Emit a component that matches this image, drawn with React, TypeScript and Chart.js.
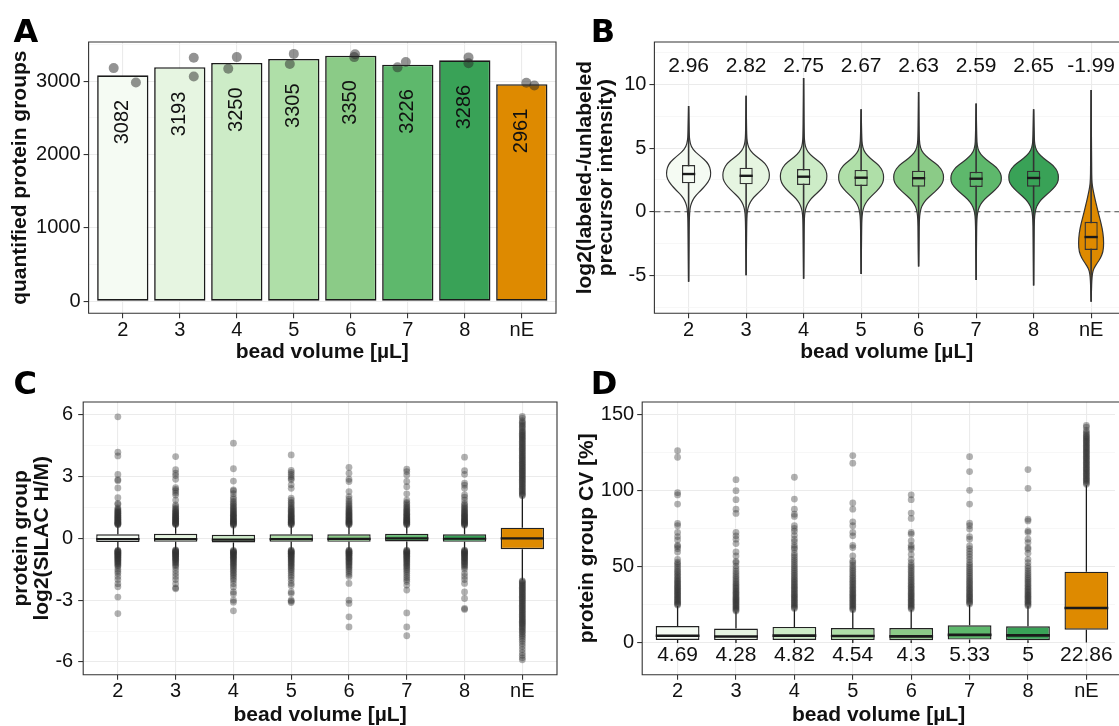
import React, { useEffect, useRef } from 'react';
import { Chart, registerables } from 'chart.js';

Chart.register(...registerables);

// ---------------- shared data ----------------
const categories = ['2', '3', '4', '5', '6', '7', '8', 'nE'];
const fillColors = ['#f5fbf3', '#e6f5e1', '#cdecc7', '#afdfa8', '#8bcb87', '#5eb86c', '#39a257', '#de8a00'];
const xTitle = 'bead volume [µL]';

// ---------------- panel A ----------------
const aCounts = [3082, 3193, 3250, 3305, 3350, 3226, 3286, 2961];
const aRep1 = [3180, 3320, 3170, 3236, 3330, 3190, 3326, 2980];
const aRep2 = [2984, 3066, 3330, 3374, 3370, 3262, 3246, 2942];
const aJitter1 = [-0.16, 0.245, -0.15, -0.07, 0.06, -0.18, 0.065, 0.08];
const aJitter2 = [0.23, 0.245, 0, 0, 0.075, -0.035, 0.065, 0.22];
const aYRange = [-165, 3536];
const aYMajor = [0, 1000, 2000, 3000];
const aYMinor = [500, 1500, 2500, 3500];
const aXRange = [-0.6, 7.6];

// ---------------- panel B ----------------
const bQ1 = [2.23, 2.15, 2.1, 2.02, 1.96, 1.94, 1.96, -3.0];
const bMedian = [2.96, 2.82, 2.75, 2.67, 2.63, 2.59, 2.65, -1.99];
const bQ3 = [3.67, 3.46, 3.35, 3.28, 3.22, 3.14, 3.22, -0.79];
// violin profiles: [value, half-width in category units]
const violin2 = [[8.3, 0], [7.0, 0.006], [6.0, 0.012], [5.6, 0.018], [5.1, 0.045], [4.7, 0.115], [4.3, 0.22], [3.9, 0.32], [3.5, 0.37], [3.0, 0.388], [2.55, 0.37], [2.1, 0.3], [1.7, 0.22], [1.3, 0.128], [0.9, 0.07], [0.5, 0.035], [0.0, 0.017], [-1.0, 0.01], [-3.0, 0.006], [-5.5, 0]];
const violin3 = [[9.1, 0], [7.5, 0.005], [6.0, 0.01], [5.5, 0.018], [5.0, 0.045], [4.6, 0.11], [4.2, 0.22], [3.8, 0.33], [3.35, 0.39], [2.85, 0.41], [2.4, 0.39], [1.95, 0.32], [1.55, 0.23], [1.15, 0.135], [0.75, 0.07], [0.35, 0.035], [-0.1, 0.017], [-1.0, 0.01], [-3.0, 0.006], [-5.0, 0]];
const violin4 = [[10.5, 0], [8.0, 0.004], [6.0, 0.01], [5.4, 0.018], [4.9, 0.045], [4.5, 0.11], [4.1, 0.22], [3.7, 0.33], [3.25, 0.39], [2.78, 0.41], [2.3, 0.39], [1.85, 0.32], [1.45, 0.23], [1.05, 0.135], [0.65, 0.07], [0.25, 0.035], [-0.2, 0.017], [-1.0, 0.01], [-3.0, 0.006], [-5.26, 0]];
const violin5 = [[8.04, 0], [6.5, 0.008], [5.8, 0.012], [5.3, 0.018], [4.8, 0.045], [4.4, 0.11], [4.0, 0.21], [3.6, 0.32], [3.15, 0.38], [2.7, 0.395], [2.25, 0.38], [1.8, 0.31], [1.4, 0.22], [1.0, 0.13], [0.6, 0.068], [0.2, 0.034], [-0.3, 0.017], [-1.0, 0.01], [-3.0, 0.006], [-4.9, 0]];
const violin6 = [[9.4, 0], [7.5, 0.005], [6.0, 0.01], [5.3, 0.018], [4.8, 0.048], [4.4, 0.12], [4.0, 0.23], [3.6, 0.35], [3.15, 0.42], [2.7, 0.438], [2.25, 0.42], [1.8, 0.34], [1.4, 0.24], [1.0, 0.14], [0.6, 0.072], [0.2, 0.036], [-0.3, 0.018], [-1.0, 0.01], [-3.0, 0.006], [-4.3, 0]];
const violin7 = [[8.5, 0], [7.0, 0.006], [5.8, 0.012], [5.2, 0.018], [4.7, 0.048], [4.3, 0.12], [3.9, 0.23], [3.5, 0.35], [3.05, 0.425], [2.62, 0.444], [2.2, 0.425], [1.75, 0.34], [1.35, 0.24], [0.95, 0.14], [0.55, 0.072], [0.15, 0.036], [-0.3, 0.018], [-1.0, 0.01], [-3.0, 0.006], [-5.37, 0]];
const violin8 = [[8.04, 0], [6.8, 0.007], [5.8, 0.012], [5.3, 0.018], [4.8, 0.048], [4.4, 0.12], [4.0, 0.23], [3.6, 0.35], [3.15, 0.42], [2.7, 0.435], [2.25, 0.42], [1.8, 0.34], [1.4, 0.24], [1.0, 0.14], [0.6, 0.072], [0.2, 0.036], [-0.3, 0.018], [-1.0, 0.01], [-3.0, 0.006], [-5.8, 0]];
const violinNE = [[9.56, 0], [6.0, 0.006], [3.5, 0.009], [2.5, 0.012], [1.96, 0.023], [1.18, 0.058], [0.53, 0.093], [-0.13, 0.127], [-0.91, 0.174], [-1.7, 0.209], [-2.48, 0.22], [-3.14, 0.209], [-3.66, 0.162], [-4.05, 0.104], [-4.45, 0.046], [-4.84, 0.023], [-5.37, 0.012], [-6.2, 0.006], [-7.07, 0]];
const bViolins = [violin2, violin3, violin4, violin5, violin6, violin7, violin8, violinNE];
const bYRange = [-7.98, 13.33];
const bYMajor = [-5, 0, 5, 10];
const bYMinor = [-7.5, -2.5, 2.5, 7.5, 12.5];
const bXRange = [-0.595, 7.485];
const bLabelValue = 11.4;
const bRefValue = 0;

// ---------------- panel C ----------------
const cQ1 = [-0.18, -0.17, -0.2, -0.17, -0.17, -0.15, -0.17, -0.53];
const cMedian = [-0.04, -0.04, -0.06, -0.04, -0.03, 0.0, -0.02, 0.0];
const cQ3 = [0.2, 0.22, 0.17, 0.2, 0.2, 0.22, 0.2, 0.52];
const cWhiskerLo = [-0.56, -0.54, -0.56, -0.55, -0.55, -0.55, -0.55, -2.04];
const cWhiskerHi = [0.64, 0.65, 0.62, 0.64, 0.64, 0.64, 0.62, 2.05];
const cOut2 = [5.9, 4.18, 4.0, 3.1, 2.85, 2.8, 2.45, 1.97, 1.7, 1.65, 1.48, 1.42, 1.38, 1.33, 1.3, 1.26, 1.22, 1.19, 1.15, 1.12, 1.08, 1.05, 1.02, 0.99, 0.96, 0.93, 0.9, 0.87, 0.84, 0.81, 0.79, 0.76, 0.74, 0.72, 0.7, 0.68, 0.66,
  -0.58, -0.6, -0.62, -0.65, -0.67, -0.7, -0.72, -0.75, -0.78, -0.8, -0.83, -0.86, -0.89, -0.92, -0.95, -0.99, -1.02, -1.06, -1.1, -1.14, -1.18, -1.22, -1.27, -1.32, -1.38, -1.5, -1.6, -1.7, -1.85, -2.0, -2.2, -2.35, -2.85, -3.65];
const cOut3 = [3.97, 3.33, 3.17, 3.05, 2.87, 2.46, 2.38, 2.3, 2.2, 2.1, 1.86, 1.62, 1.55, 1.46, 1.4, 1.35, 1.3, 1.26, 1.22, 1.18, 1.14, 1.1, 1.07, 1.04, 1.0, 0.97, 0.94, 0.91, 0.88, 0.85, 0.82, 0.79, 0.76, 0.73, 0.71, 0.69, 0.67,
  -0.56, -0.59, -0.61, -0.64, -0.66, -0.69, -0.72, -0.75, -0.78, -0.81, -0.84, -0.87, -0.9, -0.94, -0.98, -1.02, -1.06, -1.1, -1.15, -1.2, -1.26, -1.32, -1.4, -1.55, -1.7, -1.85, -2.0, -2.2, -2.4, -2.45];
const cOut4 = [4.62, 3.38, 2.78, 2.35, 2.3, 2.17, 2.0, 1.9, 1.8, 1.72, 1.65, 1.58, 1.52, 1.46, 1.4, 1.35, 1.3, 1.25, 1.2, 1.16, 1.12, 1.08, 1.04, 1.0, 0.96, 0.92, 0.88, 0.85, 0.82, 0.79, 0.76, 0.73, 0.7, 0.67, 0.64,
  -0.58, -0.61, -0.64, -0.67, -0.7, -0.73, -0.76, -0.8, -0.84, -0.88, -0.92, -0.96, -1.0, -1.05, -1.1, -1.15, -1.2, -1.26, -1.32, -1.38, -1.45, -1.52, -1.6, -1.68, -1.76, -1.85, -1.95, -2.05, -2.2, -2.36, -2.6, -2.7, -3.0, -3.1, -3.52];
const cOut5 = [4.05, 3.3, 3.2, 3.1, 3.0, 2.9, 2.84, 2.6, 2.43, 1.95, 1.85, 1.75, 1.68, 1.6, 1.52, 1.46, 1.4, 1.35, 1.3, 1.25, 1.2, 1.15, 1.11, 1.07, 1.03, 0.99, 0.95, 0.91, 0.87, 0.84, 0.81, 0.78, 0.75, 0.72, 0.69, 0.66,
  -0.57, -0.6, -0.63, -0.66, -0.69, -0.72, -0.75, -0.79, -0.83, -0.87, -0.91, -0.95, -1.0, -1.05, -1.1, -1.15, -1.2, -1.26, -1.32, -1.38, -1.45, -1.52, -1.6, -1.7, -1.8, -1.9, -2.03, -2.19, -2.3, -2.6, -2.68, -3.0, -3.05, -3.12];
const cOut6 = [3.45, 3.16, 2.87, 2.76, 2.27, 2.03, 1.9, 1.8, 1.7, 1.62, 1.55, 1.48, 1.42, 1.37, 1.32, 1.27, 1.22, 1.18, 1.14, 1.1, 1.06, 1.02, 0.98, 0.94, 0.9, 0.87, 0.84, 0.81, 0.78, 0.75, 0.72, 0.69, 0.66,
  -0.57, -0.6, -0.63, -0.66, -0.69, -0.72, -0.75, -0.78, -0.82, -0.86, -0.9, -0.94, -0.98, -1.02, -1.07, -1.12, -1.17, -1.22, -1.28, -1.34, -1.4, -1.48, -1.56, -1.65, -1.75, -1.85, -2.19, -3.0, -3.16, -3.81, -4.3];
const cOut7 = [3.36, 3.24, 3.08, 2.76, 2.51, 2.16, 1.86, 1.75, 1.68, 1.6, 1.53, 1.47, 1.41, 1.36, 1.31, 1.26, 1.21, 1.17, 1.13, 1.09, 1.05, 1.01, 0.97, 0.93, 0.9, 0.87, 0.84, 0.81, 0.78, 0.75, 0.72, 0.69, 0.66,
  -0.57, -0.6, -0.63, -0.66, -0.69, -0.72, -0.75, -0.79, -0.83, -0.87, -0.91, -0.95, -1.0, -1.05, -1.1, -1.15, -1.2, -1.26, -1.32, -1.38, -1.45, -1.52, -1.6, -1.7, -1.8, -1.9, -2.0, -2.1, -2.27, -2.51, -3.62, -4.3, -4.73];
const cOut8 = [3.94, 3.29, 3.11, 2.68, 2.58, 2.43, 2.11, 2.0, 1.86, 1.7, 1.62, 1.55, 1.48, 1.42, 1.36, 1.31, 1.26, 1.21, 1.16, 1.12, 1.08, 1.04, 1.0, 0.96, 0.92, 0.88, 0.85, 0.82, 0.79, 0.76, 0.73, 0.7, 0.67, 0.64,
  -0.57, -0.6, -0.63, -0.66, -0.69, -0.72, -0.75, -0.78, -0.82, -0.86, -0.9, -0.94, -0.98, -1.02, -1.07, -1.12, -1.17, -1.22, -1.28, -1.34, -1.4, -1.5, -1.7, -1.85, -2.0, -2.19, -2.6, -2.92, -3.4, -3.45];
const cOutNE = [5.92, 5.84, 5.71, 5.64, 5.58, 5.5, 5.43, 5.37, 5.29, 5.21, 5.16, 5.1, 5.04, 4.99, 4.93, 4.88, 4.82, 4.77, 4.71, 4.65, 4.6, 4.54, 4.48, 4.43, 4.37, 4.32, 4.26, 4.2, 4.15, 4.09, 4.03, 3.98, 3.92, 3.87, 3.81, 3.76, 3.7, 3.64, 3.59, 3.53, 3.48, 3.42, 3.37, 3.31, 3.26, 3.2, 3.15, 3.09, 3.04, 2.98, 2.93, 2.87, 2.82, 2.76, 2.71, 2.65, 2.6, 2.54, 2.49, 2.43, 2.38, 2.32, 2.27, 2.21, 2.16, 2.11, 2.07,
  -2.06, -2.1, -2.15, -2.2, -2.26, -2.31, -2.37, -2.42, -2.48, -2.53, -2.59, -2.64, -2.7, -2.75, -2.81, -2.86, -2.92, -2.97, -3.03, -3.08, -3.14, -3.19, -3.25, -3.3, -3.36, -3.41, -3.47, -3.52, -3.58, -3.63, -3.69, -3.74, -3.8, -3.85, -3.91, -3.96, -4.02, -4.07, -4.13, -4.18, -4.24, -4.3, -4.36, -4.43, -4.5, -4.56, -4.64, -4.72, -4.8, -4.9, -5.0, -5.12, -5.25, -5.4, -5.55, -5.68, -5.8, -5.9];
const cOutliers = [cOut2, cOut3, cOut4, cOut5, cOut6, cOut7, cOut8, cOutNE];
const cYRange = [-6.62, 6.62];
const cYMajor = [-6, -3, 0, 3, 6];
const cYMinor = [-4.5, -1.5, 1.5, 4.5];
const cXRange = [-0.6, 7.6];

// ---------------- panel D ----------------
const dQ1 = [2.0, 1.9, 2.0, 1.9, 1.8, 2.2, 1.8, 8.7];
const dMedian = [4.69, 4.28, 4.82, 4.54, 4.3, 5.33, 5, 22.86];
const dQ3 = [11.1, 9.4, 10.5, 9.8, 9.8, 11.6, 10.9, 46.7];
const dWhiskerLo = [0, 0, 0, 0, 0, 0, 0, 0.3];
const dWhiskerHi = [24.3, 20.6, 22.0, 21.3, 21.8, 25.1, 24.0, 103.4];
const dOut2 = [126, 121.7, 98.5, 97, 91, 78.3, 76.8, 72.4, 69.7, 67.5, 64, 63.2, 61.8, 59.6, 54.8, 53, 52, 50.8, 49.5, 48.2, 47, 46, 45, 44, 43, 42, 41.2, 40.4, 39.6, 38.8, 38, 37.2, 36.5, 35.8, 35, 34.3, 33.6, 32.9, 32.2, 31.5, 30.8, 30.1, 29.4, 28.7, 28, 27.3, 26.6, 26, 25.4, 24.8];
const dOut3 = [107, 99.8, 93.9, 87.7, 84.9, 72.4, 70.2, 68, 65.1, 59.6, 57, 53.5, 52.6, 50.4, 48.6, 47, 45.6, 44.2, 43, 41.8, 40.6, 39.5, 38.5, 37.5, 36.6, 35.7, 34.8, 34, 33.2, 32.4, 31.6, 30.8, 30, 29.3, 28.6, 27.9, 27.2, 26.5, 25.8, 25.1, 24.4, 23.7, 23, 22.3, 21.6, 21];
const dOut4 = [108.6, 94.3, 87.7, 84.4, 82.9, 76.8, 75, 73.2, 70.5, 68, 66.3, 64, 62.5, 61.4, 59, 57.4, 56, 54.6, 53.2, 51.8, 50.5, 49.2, 48, 46.8, 45.6, 44.5, 43.4, 42.3, 41.3, 40.3, 39.3, 38.3, 37.4, 36.5, 35.6, 34.7, 33.8, 32.9, 32, 31.2, 30.4, 29.6, 28.8, 28, 27.2, 26.4, 25.6, 24.8, 24, 23.3, 22.6];
const dOut5 = [122.8, 117.8, 91.7, 87.7, 79.4, 76.8, 72.4, 70.2, 64, 62.5, 57, 53.7, 52.6, 51, 49.5, 48.2, 47, 45.8, 44.6, 43.5, 42.4, 41.3, 40.3, 39.3, 38.3, 37.3, 36.4, 35.5, 34.6, 33.7, 32.8, 32, 31.2, 30.4, 29.6, 28.8, 28, 27.2, 26.4, 25.6, 24.8, 24, 23.2, 22.4, 21.8];
const dOut6 = [97.1, 93.9, 85.1, 81.6, 72.4, 71.3, 66.9, 64, 62.6, 61.4, 58, 54.8, 52.6, 51, 49.6, 48.3, 47, 45.8, 44.6, 43.4, 42.3, 41.2, 40.1, 39.1, 38.1, 37.1, 36.2, 35.3, 34.4, 33.5, 32.6, 31.8, 31, 30.2, 29.4, 28.6, 27.8, 27, 26.2, 25.4, 24.6, 23.8, 23, 22.3];
const dOut7 = [122.1, 112.3, 100, 91, 78.5, 76.8, 74.6, 69.7, 68, 63.6, 61.8, 60, 58.2, 56.4, 54.6, 52.6, 51.2, 49.8, 48.5, 47.2, 46, 44.8, 43.6, 42.5, 41.4, 40.3, 39.3, 38.3, 37.3, 36.3, 35.4, 34.5, 33.6, 32.7, 31.8, 31, 30.2, 29.4, 28.6, 27.8, 27, 26.3, 25.6];
const dOut8 = [113.6, 101.3, 81.1, 80, 73.5, 72.4, 68, 65.8, 62.5, 61.4, 58.8, 54.8, 52.6, 50.4, 48.8, 47.3, 45.9, 44.6, 43.3, 42.1, 41, 39.9, 38.8, 37.8, 36.8, 35.8, 34.9, 34, 33.1, 32.2, 31.4, 30.6, 29.8, 29, 28.2, 27.4, 26.6, 25.8, 25, 24.4];
const dOutNE = [142.5, 141.4, 139.3, 138, 137, 136, 135.2, 134.4, 133.6, 132.8, 132, 131.2, 130.4, 129.6, 128.8, 128, 127.2, 126.4, 125.6, 124.8, 124, 123.2, 122.4, 121.6, 120.8, 120, 119.2, 118.4, 117.6, 116.8, 116, 115.2, 114.4, 113.6, 112.8, 112, 111.2, 110.4, 109.6, 108.8, 108, 107.2, 106.4, 105.6, 104.8, 104];
const dOutliers = [dOut2, dOut3, dOut4, dOut5, dOut6, dOut7, dOut8, dOutNE];
const dYRange = [-20.8, 157.9];
const dYMajor = [0, 50, 100, 150];
const dYMinor = [25, 75, 125];
const dXRange = [-0.606, 7.49];
const dLabelValue = -7.7;

// ---------------- styling helpers ----------------
const FONT = "'Liberation Sans', Arial, Helvetica, sans-serif";
const TEXT = '#111111';
const GRID_MAJOR = '#ebebeb';
const GRID_MINOR = '#f4f4f4';
const FRAME = '#333333';

function yScale(range: number[], major: number[], minor: number[], title: string | string[], yWidth: number, titlePad: number, tickPad: number) {
  const all = [...minor, ...major].sort((a, b) => a - b);
  return {
    type: 'linear',
    min: range[0],
    max: range[1],
    afterBuildTicks: (s: any) => { s.ticks = all.map((v) => ({ value: v })); },
    afterFit: (s: any) => { s.width = yWidth; },
    ticks: {
      autoSkip: false,
      padding: tickPad,
      color: TEXT,
      font: { family: FONT, size: 20 },
      callback: (v: number) => (major.includes(v) ? String(v) : ''),
    },
    grid: {
      color: (c: any) => (major.includes(c.tick?.value) ? GRID_MAJOR : GRID_MINOR),
      lineWidth: (c: any) => (major.includes(c.tick?.value) ? 1.1 : 0.7),
      drawTicks: true,
      tickLength: 5,
      tickWidth: 1.1,
      tickColor: (c: any) => (major.includes(c.tick?.value) ? FRAME : 'rgba(0,0,0,0)'),
    },
    border: { display: false },
    title: {
      display: true,
      text: title,
      color: TEXT,
      font: { family: FONT, size: 21, weight: 'bold', lineHeight: 1.0 },
      padding: { top: titlePad, bottom: 0 },
    },
  };
}

function xScale(range: number[], xHeight: number) {
  return {
    type: 'linear',
    min: range[0],
    max: range[1],
    offset: false,
    afterBuildTicks: (s: any) => { s.ticks = categories.map((_, i) => ({ value: i })); },
    afterFit: (s: any) => { s.height = xHeight; },
    ticks: {
      autoSkip: false,
      maxRotation: 0,
      padding: 0,
      color: TEXT,
      font: { family: FONT, size: 20 },
      callback: (v: number) => categories[v],
    },
    grid: { offset: false, color: GRID_MAJOR, lineWidth: 1.1, drawTicks: true, tickLength: 5, tickWidth: 1.1, tickColor: FRAME },
    border: { display: false },
    title: {
      display: true,
      text: xTitle,
      color: TEXT,
      font: { family: FONT, size: 21, weight: 'bold', lineHeight: 1.0 },
      padding: { top: 0, bottom: 0 },
    },
  };
}

function drawFrame(chart: any, closed: boolean) {
  const { ctx, chartArea: a } = chart;
  ctx.save();
  ctx.strokeStyle = FRAME;
  ctx.lineWidth = 1.1;
  ctx.beginPath();
  if (closed) {
    ctx.rect(a.left, a.top, a.right - a.left, a.bottom - a.top);
  } else {
    ctx.moveTo(chart.width + 2, a.top);
    ctx.lineTo(a.left, a.top);
    ctx.lineTo(a.left, a.bottom);
    ctx.lineTo(chart.width + 2, a.bottom);
  }
  ctx.stroke();
  ctx.restore();
}

function drawLetter(chart: any, letter: string, x: number, baseline: number) {
  const ctx = chart.ctx;
  ctx.save();
  ctx.font = "bold 32px 'DejaVu Sans', sans-serif";
  ctx.fillStyle = '#000';
  ctx.textAlign = 'left';
  ctx.textBaseline = 'alphabetic';
  ctx.fillText(letter, x, baseline);
  ctx.restore();
}

function clipTo(chart: any) {
  const { ctx, chartArea: a } = chart;
  ctx.save();
  ctx.beginPath();
  ctx.rect(a.left, a.top, a.right - a.left, a.bottom - a.top);
  ctx.clip();
}

function drawMedians(chart: any, medians: number[], width: number) {
  const ctx = chart.ctx;
  const meta = chart.getDatasetMeta(0);
  const ys = chart.scales.y;
  ctx.save();
  ctx.strokeStyle = '#1a1a1a';
  ctx.lineWidth = width;
  meta.data.forEach((bar: any, i: number) => {
    const y = ys.getPixelForValue(medians[i]);
    ctx.beginPath();
    ctx.moveTo(bar.x - bar.width / 2, y);
    ctx.lineTo(bar.x + bar.width / 2, y);
    ctx.stroke();
  });
  ctx.restore();
}

function drawWhiskers(chart: any, lo: number[], q1: number[], q3: number[], hi: number[], width: number) {
  const ctx = chart.ctx;
  const xs = chart.scales.x;
  const ys = chart.scales.y;
  clipTo(chart);
  ctx.strokeStyle = '#1a1a1a';
  ctx.lineWidth = width;
  categories.forEach((_, i) => {
    const x = xs.getPixelForValue(i);
    ctx.beginPath();
    ctx.moveTo(x, ys.getPixelForValue(lo[i]));
    ctx.lineTo(x, ys.getPixelForValue(q1[i]));
    ctx.moveTo(x, ys.getPixelForValue(q3[i]));
    ctx.lineTo(x, ys.getPixelForValue(hi[i]));
    ctx.stroke();
  });
  ctx.restore();
}

function drawValueLabels(chart: any, texts: string[], value: number, size: number) {
  const ctx = chart.ctx;
  const xs = chart.scales.x;
  const y = chart.scales.y.getPixelForValue(value);
  ctx.save();
  ctx.font = `${size}px ${FONT}`;
  ctx.fillStyle = TEXT;
  ctx.textAlign = 'center';
  ctx.textBaseline = 'middle';
  texts.forEach((t, i) => ctx.fillText(t, xs.getPixelForValue(i), y));
  ctx.restore();
}

function smoothSide(ctx: any, pts: number[][], first: boolean) {
  if (first) ctx.moveTo(pts[0][0], pts[0][1]);
  else ctx.lineTo(pts[0][0], pts[0][1]);
  for (let k = 1; k < pts.length - 1; k++) {
    const mx = (pts[k][0] + pts[k + 1][0]) / 2;
    const my = (pts[k][1] + pts[k + 1][1]) / 2;
    ctx.quadraticCurveTo(pts[k][0], pts[k][1], mx, my);
  }
  const last = pts[pts.length - 1];
  ctx.lineTo(last[0], last[1]);
}

function drawViolins(chart: any) {
  const ctx = chart.ctx;
  const xs = chart.scales.x;
  const ys = chart.scales.y;
  clipTo(chart);
  ctx.save();
  ctx.strokeStyle = '#4d4d4d';
  ctx.lineWidth = 1.1;
  ctx.setLineDash([6, 4]);
  ctx.beginPath();
  const yr = ys.getPixelForValue(bRefValue);
  ctx.moveTo(chart.chartArea.left, yr);
  ctx.lineTo(chart.chartArea.right, yr);
  ctx.stroke();
  ctx.restore();

  bViolins.forEach((prof, i) => {
    const xc = xs.getPixelForValue(i);
    const right = prof.map(([v, w]) => [xs.getPixelForValue(i + w), ys.getPixelForValue(v)]);
    const left = prof.map(([v, w]) => [xs.getPixelForValue(i - w), ys.getPixelForValue(v)]).reverse();
    ctx.beginPath();
    smoothSide(ctx, right, true);
    smoothSide(ctx, left, false);
    ctx.closePath();
    ctx.fillStyle = fillColors[i];
    ctx.fill();
    ctx.strokeStyle = '#333333';
    ctx.lineWidth = 1.2;
    ctx.stroke();
    ctx.beginPath();
    ctx.moveTo(xc, ys.getPixelForValue(prof[0][0]));
    ctx.lineTo(xc, ys.getPixelForValue(prof[prof.length - 1][0]));
    ctx.lineWidth = 1.6;
    ctx.stroke();
  });
  ctx.restore();
}

// ---------------- chart builders ----------------
const baseOptions = {
  responsive: false,
  animation: false,
  devicePixelRatio: 1,
  events: [],
  plugins: { legend: { display: false }, tooltip: { enabled: false } },
};

function buildA(canvas: HTMLCanvasElement) {
  const points = [
    ...aRep1.map((v, i) => ({ x: i + aJitter1[i], y: v })),
    ...aRep2.map((v, i) => ({ x: i + aJitter2[i], y: v })),
  ];
  return new Chart(canvas, {
    type: 'bar',
    data: {
      datasets: [
        {
          type: 'bar',
          data: aCounts.map((v, i) => ({ x: i, y: v })),
          backgroundColor: fillColors,
          borderColor: '#1a1a1a',
          borderWidth: 1.6,
          borderSkipped: false,
          barPercentage: 0.9,
          categoryPercentage: 1,
          order: 2,
        },
        {
          type: 'scatter',
          data: points,
          backgroundColor: 'rgba(40,40,40,0.5)',
          borderWidth: 0,
          pointRadius: 5,
          order: 1,
        },
      ],
    },
    options: {
      ...baseOptions,
      layout: { padding: { top: 42, right: 2, left: 0, bottom: 0 } },
      scales: {
        x: xScale(aXRange, 49.7),
        y: yScale(aYRange, aYMajor, aYMinor, 'quantified protein groups', 88.6, 10, 3),
      },
    },
    plugins: [
      {
        id: 'aDeco',
        afterDatasetsDraw(chart: any) {
          const ctx = chart.ctx;
          const meta = chart.getDatasetMeta(0);
          ctx.save();
          ctx.font = `20px ${FONT}`;
          ctx.fillStyle = TEXT;
          ctx.textAlign = 'right';
          ctx.textBaseline = 'middle';
          meta.data.forEach((bar: any, i: number) => {
            ctx.save();
            ctx.translate(bar.x, bar.y + 24.5);
            ctx.rotate(-Math.PI / 2);
            ctx.fillText(String(aCounts[i]), 0, 0);
            ctx.restore();
          });
          ctx.restore();
        },
        afterDraw(chart: any) {
          drawFrame(chart, true);
          drawLetter(chart, 'A', 13.6, 42.3);
        },
      },
    ],
  } as any);
}

function buildB(canvas: HTMLCanvasElement) {
  return new Chart(canvas, {
    type: 'bar',
    data: {
      datasets: [
        {
          type: 'bar',
          data: bQ1.map((v, i) => ({ x: i, y: [v, bQ3[i]] })),
          backgroundColor: fillColors,
          borderColor: '#333333',
          borderWidth: 1.4,
          borderSkipped: false,
          barPercentage: 0.23,
          categoryPercentage: 1,
        },
      ],
    },
    options: {
      ...baseOptions,
      layout: { padding: { top: 42, right: 0, left: 0, bottom: 0 } },
      scales: {
        x: xScale(bXRange, 49.7),
        y: yScale(bYRange, bYMajor, bYMinor, ['log2(labeled-/unlabeled', 'precursor intensity)'], 93.4, 13.3, 3),
      },
    },
    plugins: [
      {
        id: 'bDeco',
        beforeDatasetsDraw(chart: any) { drawViolins(chart); },
        afterDatasetsDraw(chart: any) {
          drawMedians(chart, bMedian, 2.4);
          drawValueLabels(chart, bMedian.map((v) => v.toFixed(2)), bLabelValue, 21);
        },
        afterDraw(chart: any) {
          drawFrame(chart, false);
          drawLetter(chart, 'B', 29.7, 42.3);
        },
      },
    ],
  } as any);
}

function buildBox(canvas: HTMLCanvasElement, cfg: any) {
  const pts: any[] = [];
  cfg.outliers.forEach((arr: number[], i: number) => arr.forEach((v) => pts.push({ x: i, y: v })));
  return new Chart(canvas, {
    type: 'bar',
    data: {
      datasets: [
        {
          type: 'bar',
          data: cfg.q1.map((v: number, i: number) => ({ x: i, y: [v, cfg.q3[i]] })),
          backgroundColor: fillColors,
          borderColor: '#222222',
          borderWidth: 1.4,
          borderSkipped: false,
          barPercentage: 0.75,
          categoryPercentage: 1,
          order: 2,
        },
        {
          type: 'scatter',
          data: pts,
          backgroundColor: 'rgba(51,51,51,0.38)',
          borderWidth: 0,
          pointRadius: 3.4,
          order: 1,
        },
      ],
    },
    options: {
      ...baseOptions,
      layout: { padding: { top: 39, right: cfg.closed ? 2 : 0, left: 0, bottom: 0 } },
      scales: {
        x: xScale(cfg.xRange, 51.3),
        y: yScale(cfg.yRange, cfg.major, cfg.minor, cfg.title, cfg.yWidth, cfg.titlePad, cfg.tickPad),
      },
    },
    plugins: [
      {
        id: 'boxDeco',
        beforeDatasetsDraw(chart: any) { drawWhiskers(chart, cfg.lo, cfg.q1, cfg.q3, cfg.hi, 1.3); },
        afterDatasetsDraw(chart: any) {
          drawMedians(chart, cfg.median, cfg.medianWidth);
          if (cfg.labels) drawValueLabels(chart, cfg.median.map((v: number) => String(v)), cfg.labelValue, 21);
        },
        afterDraw(chart: any) {
          drawFrame(chart, cfg.closed);
          drawLetter(chart, cfg.letter, cfg.letterX, 30.5);
        },
      },
    ],
  } as any);
}

function buildC(canvas: HTMLCanvasElement) {
  return buildBox(canvas, {
    q1: cQ1, q3: cQ3, median: cMedian, lo: cWhiskerLo, hi: cWhiskerHi, outliers: cOutliers,
    xRange: cXRange, yRange: cYRange, major: cYMajor, minor: cYMinor,
    title: ['protein group', 'log2(SILAC H/M)'], yWidth: 83.2, titlePad: 10.9, tickPad: 5,
    medianWidth: 2.2, closed: true, letter: 'C', letterX: 13.6, labels: false,
  });
}

function buildD(canvas: HTMLCanvasElement) {
  return buildBox(canvas, {
    q1: dQ1, q3: dQ3, median: dMedian, lo: dWhiskerLo, hi: dWhiskerHi, outliers: dOutliers,
    xRange: dXRange, yRange: dYRange, major: dYMajor, minor: dYMinor,
    title: 'protein group CV [%]', yWidth: 81.2, titlePad: 16.1, tickPad: 3,
    medianWidth: 2.6, closed: false, letter: 'D', letterX: 29.7, labels: true, labelValue: dLabelValue,
  });
}

function Panel({ left, top, width, height, build }: any) {
  const ref = useRef<HTMLCanvasElement>(null);
  useEffect(() => {
    const chart = build(ref.current as HTMLCanvasElement);
    return () => chart.destroy();
  }, []);
  return (
    <canvas
      ref={ref}
      width={width}
      height={height}
      style={{ position: 'absolute', left, top, width, height, display: 'block' }}
    />
  );
}

export default function App() {
  return (
    <div style={{ position: 'absolute', left: 0, top: 0, width: 1119, height: 726, background: '#ffffff', overflow: 'hidden' }}>
      <Panel left={0} top={0} width={561} height={363} build={buildA} />
      <Panel left={561} top={0} width={558} height={363} build={buildB} />
      <Panel left={0} top={363} width={561} height={363} build={buildC} />
      <Panel left={561} top={363} width={558} height={363} build={buildD} />
    </div>
  );
}
